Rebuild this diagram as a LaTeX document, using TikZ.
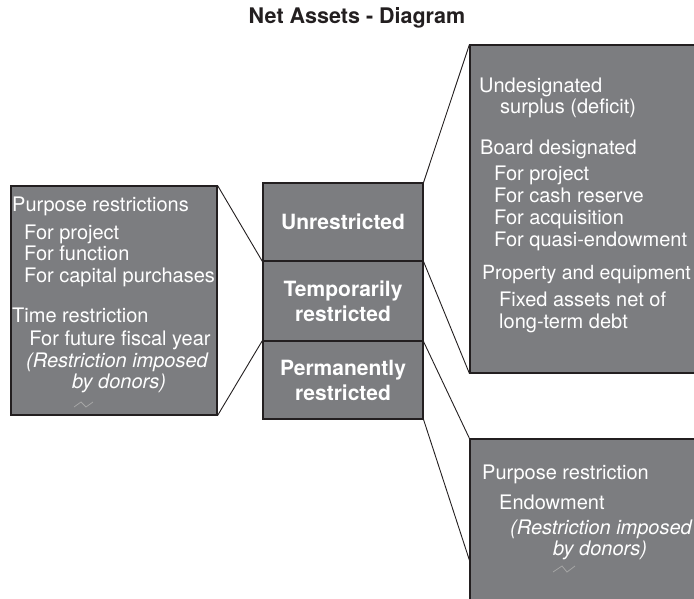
\documentclass[tikz,border=0pt]{standalone}
\usepackage{fontspec}
\setmainfont{TeX Gyre Heros}
\usetikzlibrary{positioning}
\definecolor{boxgray}{HTML}{7C7D80}
\definecolor{inkdark}{HTML}{231F20}
\tikzset{
  panel/.style={rectangle,draw=inkdark,line width=1.1pt,fill=boxgray,inner sep=0pt},
  item/.style={anchor=mid west,inner sep=0pt,text=white,font=\fontsize{20}{22}\selectfont},
  note/.style={anchor=mid,inner sep=0pt,text=white,font=\fontsize{20}{22}\selectfont\itshape}
}

\begin{document}
\begin{tikzpicture}[x=1pt,y=-1pt]
    % Local styling definitions
    \useasboundingbox (0,0) rectangle (694,598);
    \tikzstyle{kind}  =[panel,minimum width=160pt,text=white,align=center,
                        font=\fontsize{21}{25}\selectfont\bfseries]
    \tikzstyle{link}  =[inkdark,line width=0.9pt]
    \tikzstyle{squig} =[black!35,line width=0.8pt]

    % Title
    \node[inkdark,font=\fontsize{21.5}{25}\selectfont\bfseries] (title) at (357,18) {Net Assets - Diagram};

    % Middle column
    \node[kind,minimum height=78pt] (unres) at (343,222) {Unrestricted};
    \node[kind,minimum height=80pt] (temp)  at (343,301) {Temporarily\\restricted};
    \node[kind,minimum height=78pt] (perm)  at (343,380) {Permanently\\restricted};

    % Detail panels
    \node[panel,minimum width=206pt,minimum height=229pt] (tbox) at (114,300.5) {};
    \node[panel,minimum width=250pt,minimum height=328pt] (ubox) at (595,209) {};
    \node[panel,minimum width=250pt,minimum height=201pt] (pbox) at (595,539.5) {};
    \coordinate (pend) at (470,562);

    % Connectors
    \draw[link] (tbox.north east) -- (unres.south west);
    \draw[link] (tbox.south east) -- (perm.north west);
    \draw[link] (unres.north east) -- (ubox.north west);
    \draw[link] (unres.south east) -- (ubox.south west);
    \draw[link] (temp.south east) -- (pbox.north west);
    \draw[link] (perm.south east) -- (pend);

    % Temporarily restricted
    \node[item] (tp)  at (12,209)  {Purpose restrictions};
    \node[item] (tp1) at (24,237)  {For project};
    \node[item] (tp2) at (24,258)  {For function};
    \node[item] (tp3) at (24,280)  {For capital purchases};
    \node[item] (tt)  at (12,320)  {Time restriction};
    \node[item,anchor=mid] (tt1) at (120,343) {For future fiscal year};
    \node[note] (tn1) at (117,365) {(Restriction imposed};
    \node[note] (tn2) at (119,386) {by donors)};
    \draw[squig] (74,407) -- (81,402) -- (86,407) -- (93,402);

    % Unrestricted
    \node[item] (uu)  at (479,90)  {Undesignated};
    \node[item] (uu1) at (500,111) {surplus (deficit)};
    \node[item] (ub)  at (480,152) {Board designated};
    \node[item] (ub1) at (494,178) {For project};
    \node[item] (ub2) at (494,200) {For cash reserve};
    \node[item] (ub3) at (494,222) {For acquisition};
    \node[item] (ub4) at (494,244) {For quasi-endowment};
    \node[item,font=\fontsize{19.5}{22}\selectfont] (ue) at (482,277) {Property and equipment};
    \node[item] (ue1) at (499,304) {Fixed assets net of};
    \node[item] (ue2) at (499,326) {long-term debt};

    % Permanently restricted
    \node[item] (pp)  at (482,477) {Purpose restriction};
    \node[item] (pp1) at (499,507) {Endowment};
    \node[note] (pn1) at (601,532) {(Restriction imposed};
    \node[note] (pn2) at (600,553) {by donors)};
    \draw[squig] (553,572) -- (562,566) -- (567,572) -- (575,566);

\end{tikzpicture}
\end{document}
